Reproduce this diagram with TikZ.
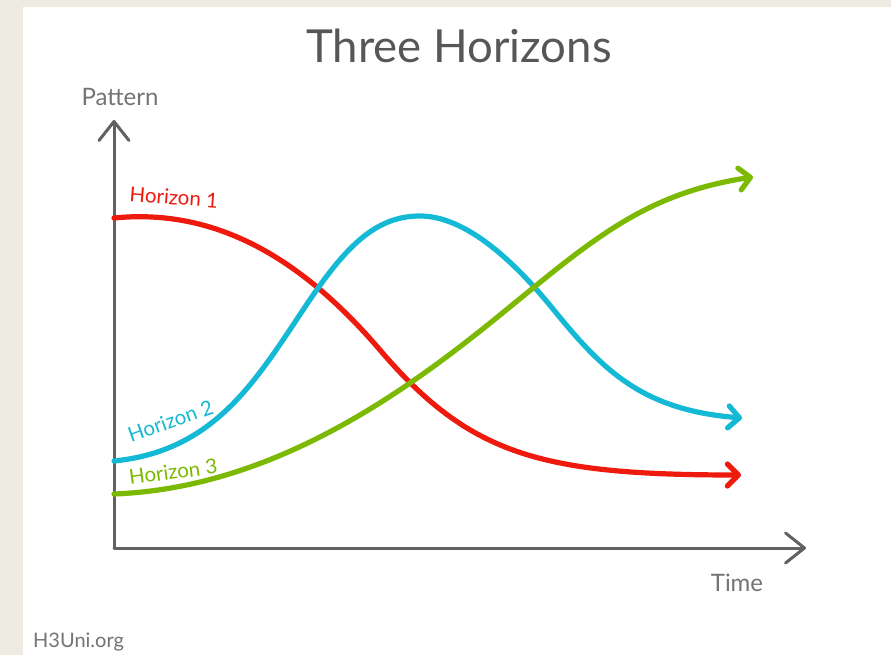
\documentclass[tikz,border=0pt]{standalone}
\usepackage{fontspec}
\setmainfont{Lato}
\usetikzlibrary{arrows.meta}
\definecolor{bg}{HTML}{EEEBE3}
\definecolor{hred}{HTML}{EE1A0E}
\definecolor{hblue}{HTML}{14B9D5}
\definecolor{hgreen}{HTML}{7CB902}
\definecolor{axisgray}{HTML}{616161}
\definecolor{txtgray}{HTML}{747474}
\definecolor{titlegray}{HTML}{575757}
\begin{document}
\begin{tikzpicture}[x=1pt,y=-1pt,
  axis/.style={draw=axisgray, line width=3pt, line cap=round,
    -{Straight Barb[length=19pt,width=30pt,line cap=round,line join=round]}},
  curve/.style={line width=5.2pt, line cap=round,
    -{Straight Barb[length=11pt,width=22pt,line cap=round,line join=round]}},
  lbl/.style={font=\fontsize{24}{28}\selectfont, text=txtgray},
  hlbl/.style={font=\fontsize{20.5}{24}\selectfont, inner sep=0pt, anchor=base west}]
\useasboundingbox (0,0) rectangle (891,655);
\fill[bg] (0,0) rectangle (891,655);
\fill[white] (23,7) rectangle (891,655);

\node[font=\fontsize{45.5}{50}\selectfont, text=titlegray, anchor=base] (title) at (459,63) {Three Horizons};

\coordinate (O) at (114,548);
\coordinate (ytip) at (114,120);
\coordinate (xtip) at (806,548);
\draw[axis] (O) -- (ytip);
\draw[axis] (O) -- (xtip);

\node[lbl, anchor=base] (pattern) at (120,106) {Pattern};
\node[lbl, anchor=base] (time) at (737,591) {Time};
\node[font=\fontsize{20}{24}\selectfont, text=txtgray, anchor=base west, inner sep=0pt] (site) at (33,647) {H3Uni.org};

% Horizon 1
\coordinate (r0) at (114,218);
\coordinate (r1) at (380,350);
\coordinate (r2) at (741,475);
\draw[curve, draw=hred] (r0) .. controls (214,208) and (300,256.4) .. (r1)
  .. controls (470,455.3) and (541,475) .. (r2);
% Horizon 2
\coordinate (b0) at (114,461);
\coordinate (b1) at (305,307);
\coordinate (b2) at (420,216);
\coordinate (b3) at (553,309);
\coordinate (b4) at (742,418);
\draw[curve, draw=hblue] (b0) .. controls (214,451) and (255,382) .. (b1)
  .. controls (345,247) and (375,216) .. (b2)
  .. controls (465,216) and (513,259.8) .. (b3)
  .. controls (603,370.5) and (642,410) .. (b4);
% Horizon 3
\coordinate (g0) at (114,494);
\coordinate (g1) at (500,315);
\coordinate (g2) at (753,177);
\draw[curve, draw=hgreen] (g0) .. controls (270,488) and (400,396.5) .. (g1)
  .. controls (590,241.7) and (643,193.5) .. (g2);

\node[hlbl, text=hred, rotate=-4.5] (h1) at (129,201) {Horizon 1};
\node[hlbl, text=hblue, rotate=19.5] (h2) at (131,443) {Horizon 2};
\node[hlbl, text=hgreen, rotate=7.5] (h3) at (130,485) {Horizon 3};
\end{tikzpicture}
\end{document}
